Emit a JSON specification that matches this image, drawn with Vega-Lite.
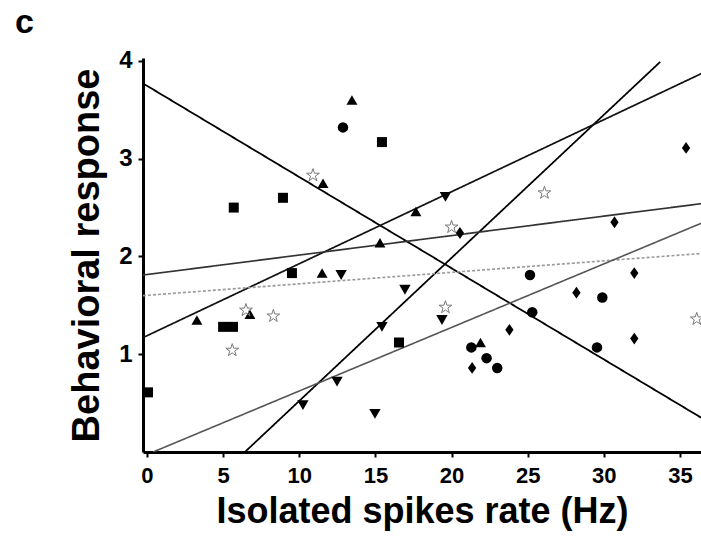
{
  "$schema": "https://vega.github.io/schema/vega-lite/v6.json",
  "width": 558,
  "height": 394,
  "autosize": "none",
  "padding": {"left": 143, "top": 58, "right": 0, "bottom": 86},
  "background": "white",
  "title": {"text": "c", "anchor": "start", "frame": "group", "dx": -128, "offset": 9, "fontSize": 34, "font": "Liberation Sans", "fontWeight": "bold", "color": "black"},
  "datasets": {
    "lines": [
      {"line": "L1", "x": -0.26, "y": 3.77}, {"line": "L1", "x": 36.4, "y": 0.35},
      {"line": "L2", "x": 6.43, "y": 0}, {"line": "L2", "x": 33.7, "y": 3.99},
      {"line": "L3", "x": -0.26, "y": 1.17}, {"line": "L3", "x": 36.4, "y": 3.87},
      {"line": "L4", "x": -0.26, "y": 1.81}, {"line": "L4", "x": 36.4, "y": 2.54},
      {"line": "L5", "x": -0.26, "y": 1.6}, {"line": "L5", "x": 36.4, "y": 2.03},
      {"line": "L6", "x": 0.4, "y": 0}, {"line": "L6", "x": 36.4, "y": 2.34}
    ],
    "points": [
      {"group": "square", "x": 0.07, "y": 0.61}, {"group": "square", "x": 5.0, "y": 1.28}, {"group": "square", "x": 5.65, "y": 1.28}, {"group": "square", "x": 5.7, "y": 2.5}, {"group": "square", "x": 8.93, "y": 2.6}, {"group": "square", "x": 9.52, "y": 1.83}, {"group": "square", "x": 15.43, "y": 3.17}, {"group": "square", "x": 16.55, "y": 1.12},
      {"group": "circle", "x": 12.87, "y": 3.32}, {"group": "circle", "x": 25.15, "y": 1.81}, {"group": "circle", "x": 25.3, "y": 1.43}, {"group": "circle", "x": 29.9, "y": 1.58}, {"group": "circle", "x": 29.55, "y": 1.07}, {"group": "circle", "x": 21.3, "y": 1.07}, {"group": "circle", "x": 22.3, "y": 0.96}, {"group": "circle", "x": 23.0, "y": 0.86},
      {"group": "up", "x": 3.28, "y": 1.35}, {"group": "up", "x": 6.76, "y": 1.41}, {"group": "up", "x": 11.56, "y": 2.75}, {"group": "up", "x": 13.46, "y": 3.6}, {"group": "up", "x": 11.5, "y": 1.83}, {"group": "up", "x": 15.3, "y": 2.14}, {"group": "up", "x": 21.9, "y": 1.12}, {"group": "up", "x": 17.66, "y": 2.46},
      {"group": "down", "x": 19.6, "y": 2.61}, {"group": "down", "x": 12.75, "y": 1.81}, {"group": "down", "x": 16.94, "y": 1.66}, {"group": "down", "x": 15.43, "y": 1.28}, {"group": "down", "x": 19.37, "y": 1.35}, {"group": "down", "x": 12.48, "y": 0.72}, {"group": "down", "x": 14.97, "y": 0.39}, {"group": "down", "x": 10.24, "y": 0.48},
      {"group": "diamond", "x": 35.4, "y": 3.11}, {"group": "diamond", "x": 30.7, "y": 2.35}, {"group": "diamond", "x": 32.0, "y": 1.83}, {"group": "diamond", "x": 20.55, "y": 2.24}, {"group": "diamond", "x": 28.2, "y": 1.63}, {"group": "diamond", "x": 23.8, "y": 1.25}, {"group": "diamond", "x": 32.0, "y": 1.16}, {"group": "diamond", "x": 21.35, "y": 0.86}
    ],
    "stars": [
      {"x": 10.9, "y": 2.83}, {"x": 20.0, "y": 2.3}, {"x": 26.1, "y": 2.65}, {"x": 19.6, "y": 1.48}, {"x": 36.1, "y": 1.36}, {"x": 6.5, "y": 1.45}, {"x": 8.3, "y": 1.39}, {"x": 5.6, "y": 1.04}
    ]
  },
  "encoding": {
    "x": {"field": "x", "type": "quantitative", "scale": {"domain": [-0.26, 36.38], "nice": false, "zero": false},
      "axis": {"title": "Isolated spikes rate (Hz)", "values": [0, 5, 10, 15, 20, 25, 30, 35], "grid": false}},
    "y": {"field": "y", "type": "quantitative", "scale": {"domain": [0, 4.03], "nice": false},
      "axis": {"title": "Behavioral response", "values": [1, 2, 3, 4], "grid": false}}
  },
  "layer": [
    {
      "data": {"name": "lines"},
      "mark": {"type": "line", "clip": true},
      "encoding": {
        "detail": {"field": "line"},
        "color": {"field": "line", "type": "nominal", "legend": null,
          "scale": {"domain": ["L1", "L2", "L3", "L4", "L5", "L6"], "range": ["#000000", "#000000", "#111111", "#333333", "#9a9a9a", "#555555"]}},
        "strokeWidth": {"field": "line", "type": "nominal", "legend": null,
          "scale": {"domain": ["L1", "L2", "L3", "L4", "L5", "L6"], "range": [1.8, 1.6, 1.4, 1.1, 1.0, 1.0]}},
        "strokeDash": {"field": "line", "type": "nominal", "legend": null,
          "scale": {"domain": ["L1", "L2", "L3", "L4", "L5", "L6"], "range": [[1, 0], [1, 0], [1, 0], [1, 0], [3, 2], [1, 0]]}}
      }
    },
    {
      "data": {"name": "points"},
      "mark": {"type": "point", "filled": true, "color": "black", "opacity": 1},
      "encoding": {
        "shape": {"field": "group", "type": "nominal", "legend": null,
          "scale": {"domain": ["square", "circle", "up", "down", "diamond"], "range": ["square", "circle", "triangle-up", "triangle-down", "M0,-1L0.7,0L0,1L-0.7,0Z"]}},
        "size": {"field": "group", "type": "nominal", "legend": null,
          "scale": {"domain": ["square", "circle", "up", "down", "diamond"], "range": [100, 140, 110, 110, 190]}}
      }
    },
    {
      "data": {"name": "stars"},
      "mark": {"type": "point", "filled": false, "stroke": "#7a7a7a", "strokeWidth": 1, "opacity": 1, "size": 180,
        "shape": "M0,-1L0.2245,-0.309L0.951,-0.309L0.363,0.118L0.588,0.809L0,0.382L-0.588,0.809L-0.363,0.118L-0.951,-0.309L-0.2245,-0.309Z"}
    }
  ],
  "config": {
    "view": {"stroke": null},
    "axis": {
      "domainColor": "black", "domainWidth": 3, "tickColor": "black", "tickWidth": 2, "tickSize": 5,
      "labelFont": "Liberation Sans", "labelFontWeight": "bold", "labelFontSize": 22, "labelColor": "black",
      "titleFont": "Liberation Sans", "titleFontWeight": "bold", "titleColor": "black"
    },
    "axisX": {"labelPadding": 8, "titleFontSize": 36, "titlePadding": 8},
    "axisY": {"labelPadding": 6, "labelFontSize": 24, "titleFontSize": 38, "titlePadding": 12}
  }
}
